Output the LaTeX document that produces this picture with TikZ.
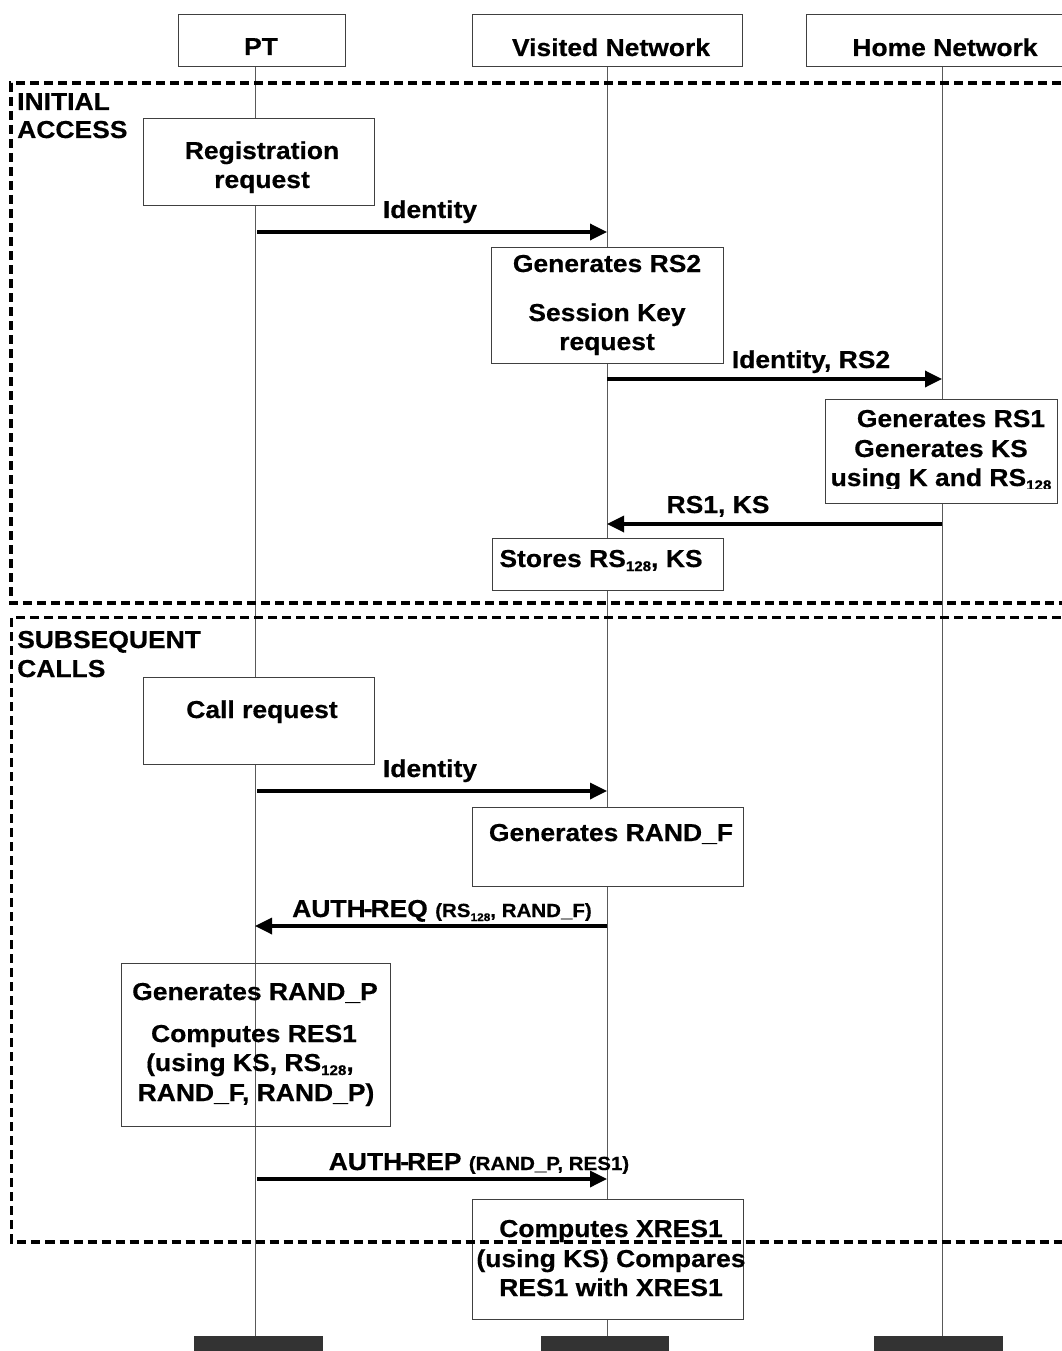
\documentclass[tikz,border=0pt]{standalone}
\usepackage{fontspec}
\setmainfont{Liberation Sans}[FakeStretch=1.08,BoldFeatures={FakeBold=0.5}]
\usetikzlibrary{arrows.meta}
\newcommand\lowidx[2][14]{\raisebox{-4pt}{\fontsize{#1}{#1}\selectfont #2}}
\newcommand\pfont{\fontsize{19}{22}\selectfont}
\begin{document}
\begin{tikzpicture}[x=1pt,y=-1pt,
  box/.style={draw=black!75,line width=1pt,fill=white,inner sep=0pt,anchor=north west},
  hollow/.style={box,fill=none},
  lbl/.style={font=\fontsize{24.5}{29}\selectfont\bfseries,inner sep=0pt,anchor=base},
  lblw/.style={lbl,anchor=base west},
  life/.style={draw=black!65,line width=1pt},
  msg/.style={line width=3.4pt,-{Triangle[length=17pt,width=16pt]}},
  frameA/.style={line width=3.2pt,dash pattern=on 9pt off 5pt},
  frameB/.style={line width=3.1pt,dash pattern=on 9pt off 5pt},
  bar/.style={fill=black!80,draw=none,inner sep=0pt,anchor=north west}]
\useasboundingbox (0,0) rectangle (1062,1351);
\fill[white] (0,0) rectangle (1062,1351);

% lifelines
\coordinate (ptT) at (255,66);  \coordinate (ptB) at (255,1336);
\coordinate (vnT) at (607,66);  \coordinate (vnB) at (607,1336);
\coordinate (hnT) at (942,66);  \coordinate (hnB) at (942,1336);
\draw[life] (ptT) -- (ptB);
\draw[life] (vnT) -- (vnB);
\draw[life] (hnT) -- (hnB);

% headers
\node[box,minimum width=167,minimum height=52] (hpt) at (178,14) {};
\node[box,minimum width=270,minimum height=52] (hvn) at (472,14) {};
\node[box,minimum width=272,minimum height=52] (hhn) at (806,14) {};
\node[lbl] (tpt) at (261,55) {PT};
\node[lbl] (tvn) at (611,56) {Visited Network};
\node[lbl] (thn) at (945,56) {Home Network};

% bottom bars
\node[bar,minimum width=129,minimum height=20] (bpt) at (194,1336) {};
\node[bar,minimum width=128,minimum height=20] (bvn) at (541,1336) {};
\node[bar,minimum width=129,minimum height=20] (bhn) at (874,1336) {};

% frame labels
\node[lblw] (ia1) at (17,110) {INITIAL};
\node[lblw] (ia2) at (17,138) {ACCESS};
\node[lblw] (sc1) at (17,648) {SUBSEQUENT};
\node[lblw] (sc2) at (17,677) {CALLS};

% activity boxes
\node[box,minimum width=231,minimum height=87] (reg) at (143,118) {};
\node[lbl] (reg1) at (262,159) {Registration};
\node[lbl] (reg2) at (262,188) {request};

\node[box,minimum width=232,minimum height=116] (rs2) at (491,247) {};
\node[lbl] (rs2a) at (607,272) {Generates RS2};
\node[lbl] (rs2b) at (607,321) {Session Key};
\node[lbl] (rs2c) at (607,350) {request};

\node[box,minimum width=232,minimum height=104] (hkb) at (825,399) {};
\begin{scope}
  \clip (826,400) rectangle (1056,488);
  \node[lbl] (hkb1) at (951,427) {Generates RS1};
  \node[lbl] (hkb2) at (941,457) {Generates KS};
  \node[lbl] (hkb3) at (941,486) {using K and RS\lowidx{128}};
\end{scope}

\node[box,minimum width=231,minimum height=52] (sto) at (492,538) {};
\node[lbl] (sto1) at (601,567) {Stores RS\lowidx{128}, KS};

\node[box,minimum width=231,minimum height=87] (call) at (143,677) {};
\node[lbl] (call1) at (262,718) {Call request};

\node[box,minimum width=271,minimum height=79] (rf) at (472,807) {};
\node[lbl] (rf1) at (611,841) {Generates RAND\_F};

\node[hollow,minimum width=269,minimum height=163] (rp) at (121,963) {};
\node[lbl] (rp1) at (255,1000) {Generates RAND\_P};
\node[lbl] (rp2) at (254,1042) {Computes RES1};
\node[lbl] (rp3) at (250,1071) {(using KS, RS\lowidx{128},};
\node[lbl] (rp4) at (256,1101) {RAND\_F, RAND\_P)};

\node[box,minimum width=271,minimum height=120] (xr) at (472,1199) {};
\node[lbl] (xr1) at (611,1237) {Computes XRES1};
\node[lbl] (xr2) at (611,1267) {(using KS) Compares};
\node[lbl] (xr3) at (611,1296) {RES1 with XRES1};

% messages
\coordinate (m1a) at (257,232);  \coordinate (m1b) at (607,232);
\coordinate (m2a) at (607,379);  \coordinate (m2b) at (942,379);
\coordinate (m3a) at (942,524);  \coordinate (m3b) at (607,524);
\coordinate (m4a) at (257,791);  \coordinate (m4b) at (607,791);
\coordinate (m5a) at (607,926);  \coordinate (m5b) at (255,926);
\coordinate (m6a) at (257,1179); \coordinate (m6b) at (607,1179);
\draw[msg] (m1a) -- (m1b);
\draw[msg] (m2a) -- (m2b);
\draw[msg] (m3a) -- (m3b);
\draw[msg] (m4a) -- (m4b);
\draw[msg] (m5a) -- (m5b);
\draw[msg] (m6a) -- (m6b);
\node[lbl] (l1) at (430,218) {Identity};
\node[lbl] (l2) at (811,368) {Identity, RS2};
\node[lbl] (l3) at (718,513) {RS1, KS};
\node[lbl] (l4) at (430,777) {Identity};
\node[lbl] (l5) at (442,917) {AUTH\kern-2pt-\kern-2pt REQ {\pfont (RS\lowidx[11]{128}, RAND\_F)}};
\node[lbl] (l6) at (479,1170) {AUTH\kern-2pt-\kern-2pt REP {\pfont (RAND\_P, RES1)}};

% dashed frames
\draw[frameA] (1075,83) -- (11,83) -- (11,603) -- (1075,603);
\draw[frameB] (1075,617.5) -- (11.5,617.5) -- (11.5,1242) -- (1075,1242);
\end{tikzpicture}
\end{document}
